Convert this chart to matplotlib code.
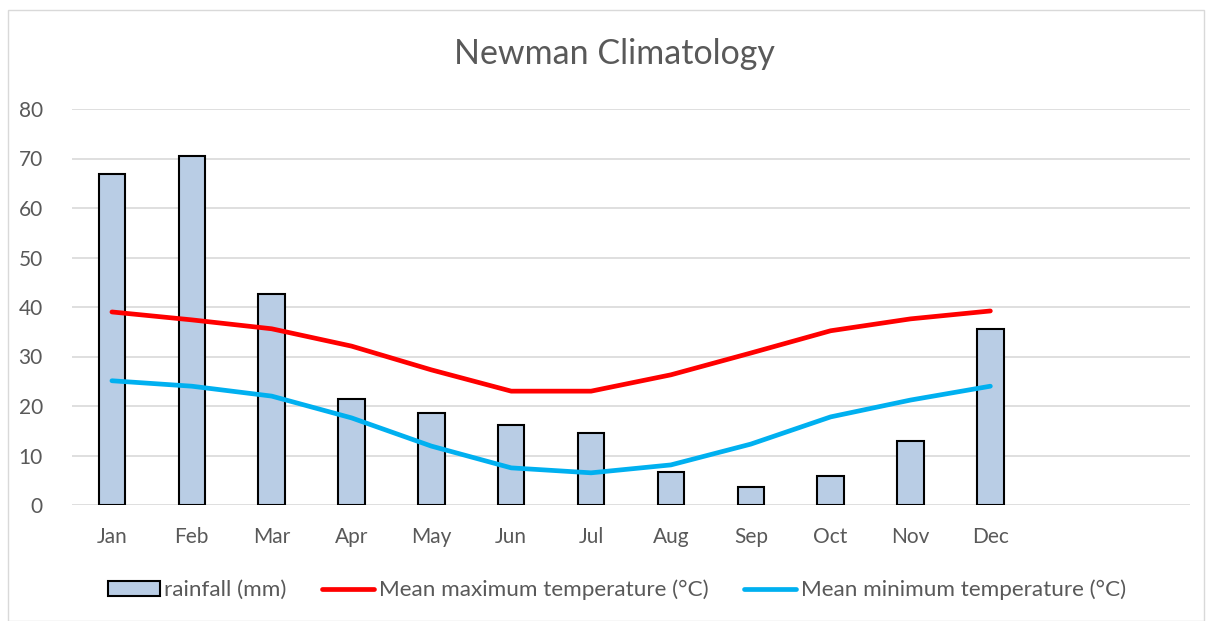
import matplotlib.pyplot as plt
from matplotlib.patches import Rectangle

plt.rcParams['font.family'] = ['Lato', 'DejaVu Sans']

months = ['Jan', 'Feb', 'Mar', 'Apr', 'May', 'Jun', 'Jul', 'Aug', 'Sep', 'Oct', 'Nov', 'Dec', '', '']
rainfall = [66.9, 70.5, 42.6, 21.4, 18.6, 16.2, 14.5, 6.7, 3.6, 5.9, 12.9, 35.6]
max_temp = [39.0, 37.4, 35.6, 32.1, 27.3, 23.0, 23.0, 26.3, 30.7, 35.2, 37.6, 39.2]
min_temp = [25.1, 24.0, 22.0, 17.6, 11.9, 7.5, 6.5, 8.1, 12.3, 17.8, 21.2, 24.0]

grey = '#595959'

fig = plt.figure(figsize=(12.14, 6.21), dpi=100)
ax = fig.add_axes([72 / 1214, 1 - 505 / 621, (1190 - 72) / 1214, (505 - 109) / 621])

# outer chart border like the spreadsheet frame
fig.patches.append(Rectangle((8 / 1214, 0.0), 1196 / 1214, 1 - 10 / 621, transform=fig.transFigure,
                             fill=False, edgecolor='#d9d9d9', lw=1))

x = list(range(len(rainfall)))
bars = ax.bar(x, rainfall, width=0.33, color='#B9CDE5', edgecolor='black', linewidth=1.5,
              label='rainfall (mm)', zorder=2)
l1, = ax.plot(x, max_temp, color='#FF0000', lw=3.4, solid_capstyle='round',
              label='Mean maximum temperature (°C)', zorder=3)
l2, = ax.plot(x, min_temp, color='#00B0F0', lw=3.4, solid_capstyle='round',
              label='Mean minimum temperature (°C)', zorder=3)

ax.set_xlim(-0.5, len(months) - 0.5)
ax.set_ylim(0, 80)
ax.set_yticks(range(0, 81, 10))
ax.set_xticks(range(len(months)))
ax.set_xticklabels(months)
ax.grid(axis='y', color='#d9d9d9', lw=1.2, zorder=0)
for s in ax.spines.values():
    s.set_visible(False)
ax.tick_params(length=0, colors=grey, labelsize=15)
ax.tick_params(axis='x', pad=16)
ax.tick_params(axis='y', pad=21)

fig.text(0.506, 0.913, 'Newman Climatology', ha='center', va='center', fontsize=24.5, color=grey)

leg = fig.legend([bars, l1, l2], [bars.get_label(), l1.get_label(), l2.get_label()],
                 loc='center', bbox_to_anchor=(0.508, 1 - 590 / 621), ncol=3, frameon=False,
                 fontsize=16.2, handlelength=2.3, handleheight=0.6, handletextpad=0.2,
                 columnspacing=1.6)
for t in leg.get_texts():
    t.set_color(grey)

fig.savefig('out.png', dpi=100)
